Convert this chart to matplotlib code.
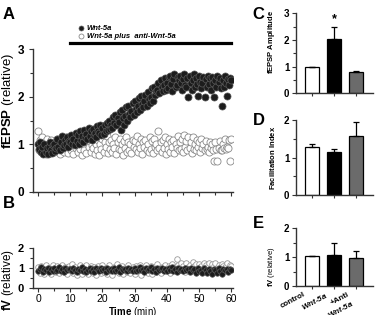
import numpy as np
import matplotlib
matplotlib.use("Agg")
import matplotlib.pyplot as plt
from matplotlib.ticker import MultipleLocator
from matplotlib.transforms import ScaledTranslation

plt.rcParams['font.family'] = ['Liberation Sans', 'DejaVu Sans']
plt.rcParams['mathtext.fontset'] = 'custom'
plt.rcParams['mathtext.rm'] = 'Liberation Sans'
plt.rcParams['mathtext.bf'] = 'Liberation Sans:bold'
plt.rcParams['mathtext.it'] = 'Liberation Sans:italic'
plt.rcParams['mathtext.bfit'] = 'Liberation Sans:bold:italic'

# ---- panel A: fEPSP, 3 samples per minute ----
t_a = np.arange(181) / 3.0
fepsp_wnt = [
    1.00, 0.90, 1.05, 0.85, 0.95, 0.80, 1.00, 0.85, 0.92, 0.80, 0.95, 1.05,
    0.88, 0.82, 0.98, 1.00, 0.86, 0.93, 1.12, 0.95, 0.88, 1.05, 1.18, 0.92,
    0.98, 1.10, 1.02, 1.15, 0.95, 1.08, 1.05, 1.20, 1.00, 1.12, 0.98, 1.25,
    1.08, 1.20, 1.02, 1.28, 1.10, 1.18, 1.05, 1.30, 1.15, 1.22, 1.12, 1.35,
    1.18, 1.28, 1.10, 1.32, 1.20, 1.25, 1.15, 1.38, 1.28, 1.25, 1.42, 1.20,
    1.35, 1.22, 1.40, 1.28, 1.45, 1.30, 1.50, 1.32, 1.42, 1.35, 1.58, 1.45,
    1.62, 1.40, 1.55, 1.48, 1.68, 1.30, 1.72, 1.55, 1.42, 1.60, 1.78, 1.50,
    1.82, 1.65, 1.58, 1.70, 1.88, 1.62, 1.92, 1.75, 1.68, 1.80, 1.98, 1.72,
    2.02, 1.85, 1.78, 1.92, 2.05, 1.82, 2.10, 1.95, 1.88, 2.00, 2.18, 1.92,
    2.22, 2.05, 2.12, 2.15, 2.30, 2.08, 2.35, 2.20, 2.12, 2.25, 2.40, 2.15,
    2.30, 2.18, 2.42, 2.45, 2.28, 2.12, 2.38, 2.48, 2.22, 2.25, 2.42, 2.35,
    2.45, 2.30, 2.15, 2.38, 2.48, 2.25, 2.20, 2.40, 2.00, 2.45, 2.30, 2.15,
    2.35, 2.48, 2.22, 2.40, 2.28, 2.02, 2.45, 2.32, 2.18, 2.30, 2.42, 2.00,
    2.38, 2.22, 2.45, 2.28, 2.40, 2.15, 2.42, 2.30, 2.00, 2.35, 2.20, 2.45,
    2.32, 2.40, 2.18, 1.80, 2.35, 2.22, 2.45, 2.30, 2.02, 2.38, 2.25, 2.40,
    2.35]
fepsp_anti = [
    1.28, 0.88, 1.10, 0.95, 1.15, 0.85, 1.05, 0.80, 1.12, 0.90, 1.00, 0.82,
    1.10, 0.88, 0.95, 0.85, 1.05, 0.92, 1.12, 0.90, 0.80, 0.95, 1.08, 0.88,
    0.85, 1.00, 1.15, 0.92, 0.82, 1.05, 1.10, 0.88, 0.98, 0.80, 1.05, 0.92,
    1.15, 0.85, 1.02, 0.90, 1.10, 0.78, 1.00, 0.88, 1.12, 0.82, 1.05, 0.95,
    1.08, 0.85, 0.98, 0.92, 1.15, 0.80, 1.02, 0.88, 1.10, 0.78, 1.00, 0.90,
    1.12, 0.85, 1.05, 0.95, 1.18, 0.82, 1.05, 0.90, 1.10, 0.85, 1.00, 0.92,
    1.15, 0.80, 1.05, 0.90, 1.12, 0.88, 1.02, 0.78, 1.08, 0.92, 1.15, 0.85,
    1.05, 0.88, 1.00, 0.82, 1.10, 0.95, 1.08, 0.90, 1.18, 0.85, 1.02, 0.92,
    1.12, 0.80, 1.05, 0.95, 1.10, 0.88, 1.00, 0.85, 1.15, 0.90, 1.08, 0.82,
    1.12, 0.95, 1.02, 0.88, 1.28, 0.92, 1.05, 0.85, 1.10, 0.92, 1.15, 0.80,
    1.02, 0.90, 1.12, 0.85, 1.05, 0.95, 1.10, 0.82, 1.00, 0.92, 1.18, 0.88,
    1.05, 0.90, 1.12, 0.85, 1.20, 0.95, 1.08, 0.88, 1.15, 0.92, 1.05, 0.82,
    1.15, 0.90, 1.02, 0.88, 1.10, 0.95, 1.05, 0.85, 1.12, 0.92, 1.00, 0.88,
    1.08, 0.90, 0.95, 0.85, 1.05, 0.92, 1.00, 0.88, 0.65, 1.05, 0.90, 0.65,
    0.92, 1.08, 0.88, 0.88, 1.00, 0.92, 1.12, 0.90, 0.95, 0.92, 1.10, 0.65,
    1.12]
treatment = [10, 60]

# ---- panel B: fiber volley, 2 samples per minute ----
t_b = np.arange(121) / 2.0
fv_wnt = [
    0.85, 0.95, 1.05, 0.80, 0.92, 0.88, 1.00, 0.78, 0.95, 0.85, 0.98, 0.82, 0.90, 1.02, 0.85, 0.93, 0.80, 0.97, 0.88, 0.92,
    0.95, 0.82, 1.00, 0.87, 0.78, 0.93, 0.88, 1.02, 0.84, 0.95, 0.80, 0.90, 0.98, 0.85, 0.92, 0.78, 0.96, 0.88, 0.83, 0.99,
    0.86, 0.94, 0.80, 1.00, 0.88, 0.92, 0.82, 0.97, 0.85, 0.90, 1.03, 0.80, 0.93, 0.87, 0.95, 0.82, 0.98, 0.86, 0.91, 0.84,
    0.96, 0.83, 0.90, 1.02, 0.86, 0.94, 0.79, 0.97, 0.88, 0.92, 1.05, 0.85, 0.93, 0.80, 0.98, 0.87, 0.91, 1.00, 0.84, 0.95,
    0.82, 0.96, 0.89, 1.03, 0.85, 0.92, 0.80, 0.98, 0.87, 0.94, 0.83, 1.00, 0.88, 0.91, 0.78, 0.96, 0.86, 0.93, 0.72, 0.97,
    0.85, 0.90, 0.75, 0.98, 0.88, 0.72, 0.95, 0.84, 0.70, 0.92, 0.87, 0.75, 0.97, 0.83, 0.70, 0.91, 0.86, 0.95, 0.80, 0.93,
    0.88]
fv_anti = [
    1.05, 0.75, 1.10, 0.90, 0.70, 1.15, 0.85, 1.00, 0.68, 1.12, 0.92, 0.78, 1.08, 0.72, 0.95, 1.15, 0.80, 1.05, 0.70, 1.10,
    0.88, 1.20, 0.75, 1.05, 0.62, 0.95, 1.12, 0.70, 1.00, 0.80, 1.15, 0.68, 0.92, 1.08, 0.75, 1.02, 0.65, 1.10, 0.85, 0.72,
    1.12, 0.78, 1.00, 0.70, 1.15, 0.85, 0.62, 1.05, 0.90, 1.18, 0.72, 0.95, 1.08, 0.68, 1.00, 0.80, 1.12, 0.75, 0.92, 1.05,
    0.70, 1.10, 0.85, 1.15, 0.65, 1.00, 0.88, 1.12, 0.75, 0.95, 1.08, 0.68, 1.02, 0.80, 1.18, 0.90, 0.72, 1.05, 0.95, 1.15,
    0.85, 1.10, 0.75, 1.20, 0.95, 1.05, 1.42, 1.15, 0.88, 1.25, 1.10, 0.80, 1.22, 1.05, 1.15, 0.92, 1.28, 1.08, 1.18, 0.85,
    1.20, 1.10, 0.95, 1.25, 1.12, 1.05, 1.22, 0.90, 1.18, 1.08, 1.25, 1.00, 1.15, 0.92, 1.20, 1.10, 1.05, 1.22, 0.95, 1.15,
    1.10]

# ---- bar panels C, D, E ----
groups = ['control', r'$\mathbfit{Wnt}$-$\mathbfit{5a}$',
          '+Anti\n' + r'$\mathbfit{Wnt}$-$\mathbfit{5a}$']
bar_colors = ['white', 'black', '#6b6b6b']
amp_mean = [1.0, 2.05, 0.80]
amp_err = [0.0, 0.45, 0.02]
fi_mean = [1.27, 1.15, 1.58]
fi_err = [0.08, 0.07, 0.37]
fv_mean = [1.02, 1.08, 0.98]
fv_err = [0.0, 0.42, 0.24]

fig = plt.figure(figsize=(3.76, 3.15), dpi=100)
spine_c = '#333333'


def style(ax):
    for s in ['top', 'right']:
        ax.spines[s].set_visible(False)
    for s in ['left', 'bottom']:
        ax.spines[s].set_color(spine_c)
        ax.spines[s].set_linewidth(1.0)
    ax.tick_params(which='both', direction='out', color=spine_c, width=0.8)
    ax.tick_params(which='major', length=3)
    ax.tick_params(which='minor', length=2)


# A
axA = fig.add_axes([0.0878, 0.3905, 0.532, 0.4524])
style(axA)
axA.scatter(t_a, fepsp_anti, s=26, facecolor='white', edgecolor='#8a8a8a',
            linewidth=0.6, zorder=2, label='Wnt-5a plus  anti-Wnt-5a')
axA.scatter(t_a, fepsp_wnt, s=26, facecolor='#1c1c1c', edgecolor='#5a5a5a',
            linewidth=0.5, zorder=3, label='Wnt-5a')
axA.plot(treatment, [3.14, 3.14], color='black', lw=2.3, clip_on=False)
axA.set_xlim(-1.55, 60.5)
axA.set_ylim(0, 3)
axA.xaxis.set_major_locator(MultipleLocator(10))
axA.xaxis.set_minor_locator(MultipleLocator(5))
axA.yaxis.set_major_locator(MultipleLocator(1))
axA.yaxis.set_minor_locator(MultipleLocator(0.5))
axA.set_xticklabels([])
for lb in axA.get_yticklabels():
    lb.set_fontweight('bold')
    lb.set_fontsize(8.5)
axA.set_ylabel(r'$\mathbf{fEPSP}$ (relative)', fontsize=9.5)
axA.yaxis.set_label_coords(-0.085, 0.64)
h, l = axA.get_legend_handles_labels()
axA.legend(h[::-1], l[::-1], loc='upper left', bbox_to_anchor=(0.2, 1.2),
           frameon=False, borderpad=0, handletextpad=0.3, labelspacing=0.05,
           handlelength=1.0, markerscale=0.7,
           prop={'size': 5.5, 'weight': 'bold', 'style': 'italic'})

# B
axB = fig.add_axes([0.0878, 0.0867, 0.532, 0.127])
style(axB)
axB.scatter(t_b, fv_anti, s=16, facecolor='white', edgecolor='#9a9a9a',
            linewidth=0.6, zorder=2)
axB.scatter(t_b, fv_wnt, s=16, facecolor='#1c1c1c', edgecolor='#5a5a5a',
            linewidth=0.5, zorder=3)
axB.set_xlim(-1.55, 60.5)
axB.set_ylim(0, 2)
axB.xaxis.set_major_locator(MultipleLocator(10))
axB.xaxis.set_minor_locator(MultipleLocator(5))
axB.yaxis.set_major_locator(MultipleLocator(1))
axB.yaxis.set_minor_locator(MultipleLocator(0.5))
axB.tick_params(axis='x', labelsize=7.5, pad=1.5)
for lb in axB.get_yticklabels():
    lb.set_fontweight('bold')
    lb.set_fontsize(8)
axB.set_ylabel(r'$\mathbf{fV}$ (relative)', fontsize=8.5)
axB.yaxis.set_label_coords(-0.085, 0.2)
axB.set_xlabel(r'$\mathbf{Time}$ (min)', fontsize=7, labelpad=0.5)


def bars(rect, mean, err, ymax, ylabel, lab_xy):
    ax = fig.add_axes(rect)
    style(ax)
    x = np.arange(len(mean))
    ax.bar(x, mean, width=0.62, color=bar_colors, edgecolor='black',
           linewidth=0.9, zorder=2)
    ax.errorbar(x, mean, yerr=[np.zeros(len(err)), err], fmt='none',
                ecolor='black', elinewidth=0.9, capsize=2, capthick=0.9,
                zorder=3)
    ax.set_xlim(-0.73, 2.75)
    ax.set_ylim(0, ymax)
    ax.set_xticks(x)
    ax.set_xticklabels([])
    ax.tick_params(axis='x', length=2)
    ax.yaxis.set_major_locator(MultipleLocator(1))
    ax.yaxis.set_minor_locator(MultipleLocator(0.5))
    ax.tick_params(axis='y', labelsize=7, pad=1.5)
    for lb in ax.get_yticklabels():
        lb.set_fontweight('bold')
    ax.set_ylabel(ylabel, fontsize=5.5)
    ax.yaxis.set_label_coords(*lab_xy)
    return ax


axC = bars([0.7864, 0.7038, 0.2056, 0.254], amp_mean, amp_err, 3,
           r'$\mathbf{fEPSP\ Amplitude}$', (-0.24, 0.64))
axC.text(1, amp_mean[1] + amp_err[1] + 0.05, '*', ha='center', va='bottom',
         fontsize=9, fontweight='bold')
axD = bars([0.7864, 0.381, 0.2056, 0.238], fi_mean, fi_err, 2,
           r'$\mathbf{Facilitation\ Index}$', (-0.24, 0.5))
axE = bars([0.7864, 0.092, 0.2056, 0.184], fv_mean, fv_err, 2,
           r'$\mathbf{fV}$ (relative)', (-0.24, 0.33))
axE.set_xticklabels(groups, rotation=28, ha='right', rotation_mode='anchor',
                    fontsize=5.8, fontweight='bold')
axE.tick_params(axis='x', pad=1.5)
shift = ScaledTranslation(-0.09, 0.0, fig.dpi_scale_trans)
for lb in axE.get_xticklabels():
    lb.set_transform(lb.get_transform() + shift)

for lab, x, y in [('A', 0.008, 0.955), ('B', 0.008, 0.355), ('C', 0.672, 0.955),
                  ('D', 0.672, 0.618), ('E', 0.672, 0.29)]:
    fig.text(x, y, lab, fontsize=12, fontweight='bold', va='center')

fig.savefig('out.png', dpi=100)
